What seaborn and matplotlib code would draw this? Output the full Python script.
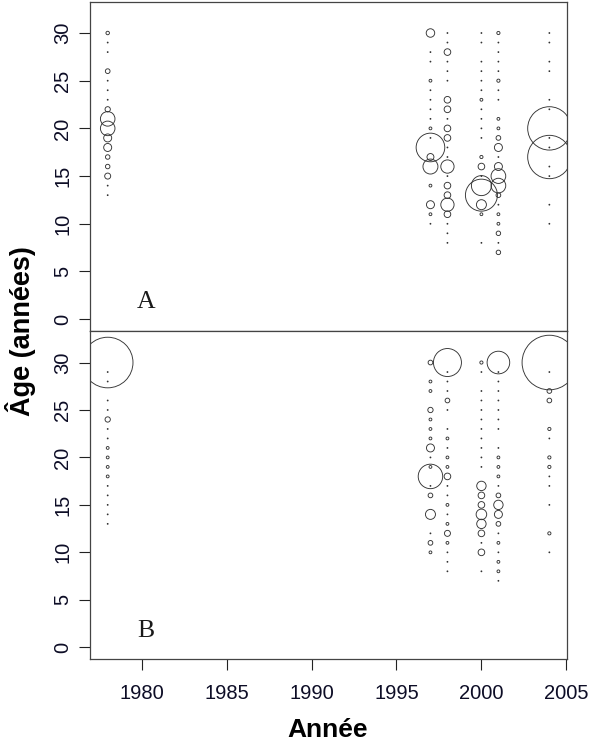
import matplotlib
matplotlib.use("Agg")
import matplotlib.pyplot as plt
import pandas as pd
import seaborn as sns

# sampling years and ages (top row = age 30, down to age 7)
years = [1978, 1997, 1998, 2000, 2001, 2004]
ages = list(range(30, 6, -1))

# panel A : relative abundance by age, one list per year (0 = none)
a_1978 = [3, .2, .2, 0, 5.5, .2, .2, .2, 7, 53, 53, 16, 16, 5, 5, 9, .2, .2, 0, 0, 0, 0, 0, 0]
a_1997 = [18, 0, .2, .2, 0, 2, .2, .2, .2, .2, 2, .2, 205, 12, 56, 0, 2, 0, 16, 2, .2, 0, 0, 0]
a_1998 = [.2, .2, 11, .2, .2, .2, 0, 11, 11, .2, 11, 11, .2, .2, 44, .2, 11, 11, 44, 11, .2, .2, .2, 0]
a_2000 = [.2, .2, 0, .2, .2, .2, .2, 2, .2, .2, .2, .2, 0, 2.5, 11, .2, 100, 256, 25, 2, 0, 0, .2, 0]
a_2001 = [2.5, .2, .2, .2, .2, 2.5, .2, .2, 0, 2, 2, 5.5, 16, .2, 16, 54, 54, 5.5, .2, 2, 2, 5, .2, 5]
a_2004 = [.2, .2, 0, .2, .2, 0, 0, .2, .2, 0, 470, .2, .2, 470, .2, .2, 0, 0, .2, 0, .2, 0, 0, 0]

# panel B
b_1978 = [640, .2, .2, 0, .2, .2, 7, .2, .2, 2, 2, 2, 2, .2, .2, .2, .2, .2, 0, 0, 0, 0, 0, 0]
b_1997 = [5.5, 0, 2, 2, 0, 7, 2, 2, 2, 16, .2, 2, 150, .2, 5.5, 0, 25, 0, .2, 5.5, 2, 0, 0, 0]
b_1998 = [196, .2, .2, .2, 5.5, .2, 0, .2, 2, .2, 2, 2, 11, .2, .2, 2, .2, 2, 9, 2, .2, .2, .2, 0]
b_2000 = [2.5, .2, 0, .2, .2, .2, .2, .2, .2, .2, .2, .2, 0, 22, 11, 11, 28, 22, 11, .2, 11, 0, .2, 0]
b_2001 = [128, .2, .2, .2, .2, .2, .2, .2, 0, .2, 2, 2, 2, .2, 5.5, 22, 16, 5.5, .2, 2, .2, 2, 2, .2]
b_2004 = [745, .2, 0, 5.5, 5.5, 0, 0, 2.5, .2, 0, 2.5, 2.5, .2, .2, 0, .2, 0, 0, 2.5, 0, .2, 0, 0, 0]

panel_a = [a_1978, a_1997, a_1998, a_2000, a_2001, a_2004]
panel_b = [b_1978, b_1997, b_1998, b_2000, b_2001, b_2004]


def to_frame(cols):
    rows = []
    for yr, vals in zip(years, cols):
        for age, v in zip(ages, vals):
            if v > 0:
                rows.append((yr, age, v))
    return pd.DataFrame(rows, columns=["annee", "age", "prop"])


sns.set_style("ticks")
plt.rcParams["font.family"] = ["Liberation Sans", "DejaVu Sans"]

tick_col = "#0d0d26"
line_col = "#444444"

fig = plt.figure(figsize=(5.95, 7.48), dpi=100)
ax_a = fig.add_axes([0.1513, 0.5570, 0.8017, 0.4407])
ax_b = fig.add_axes([0.1513, 0.11845, 0.8017, 0.4385])

for ax, cols, letter in [(ax_a, panel_a, "A"), (ax_b, panel_b, "B")]:
    d = to_frame(cols)
    sns.scatterplot(data=d, x="annee", y="age", size="prop",
                    sizes=(0, 2073), size_norm=(0, 1000),
                    facecolor="none", edgecolor="#333333", linewidth=0.65,
                    legend=False, ax=ax)
    ax.set_xlim(1976.96, 2005.04)
    ax.set_ylim(-1.28, 33.28)
    ax.set_xlabel("")
    ax.set_ylabel("")
    ax.set_yticks(range(0, 31, 5))
    ax.tick_params(axis="y", direction="out", length=8.2, width=0.8, pad=4.5,
                   labelsize=14.5, labelcolor=tick_col, color="#222222",
                   labelrotation=90)
    for lab in ax.get_yticklabels():
        lab.set_va("center")
    for s in ax.spines.values():
        s.set_visible(True)
        s.set_color(line_col)
        s.set_linewidth(0.9)
    ax.text(1980.23, 1.12, letter, ha="center", va="baseline", fontsize=18.5,
            family=["Liberation Serif", "DejaVu Serif"], color="#1a1a1a")

ax_a.tick_params(axis="x", bottom=False, labelbottom=False)
ax_b.set_xticks(range(1980, 2006, 5))
ax_b.tick_params(axis="x", direction="out", length=8, width=0.8, pad=10,
                 labelsize=14.5, labelcolor=tick_col, color="#222222")

fig.text(21 / 595, 1 - 331 / 748, "Âge (années)", rotation=90, ha="center",
         va="center", fontsize=19.5, fontweight="bold", color="black")
fig.text(328 / 595, 1 - 737 / 748, "Année", ha="center", va="baseline",
         fontsize=19, fontweight="bold", color="black")

fig.savefig("out.png", dpi=100)
plt.close(fig)
